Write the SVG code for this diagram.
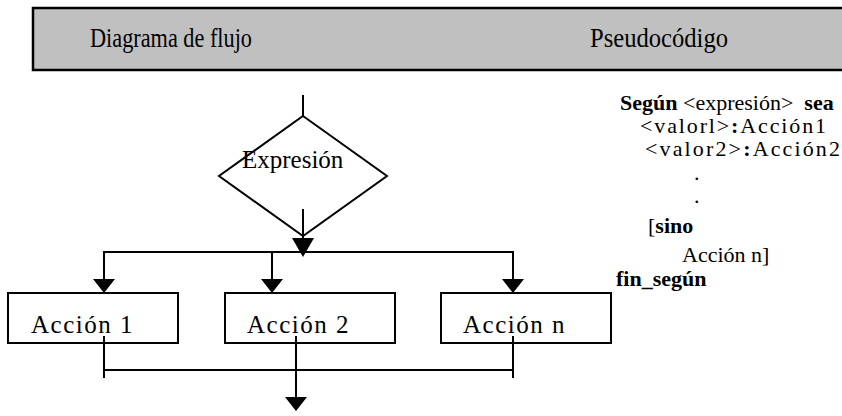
<svg xmlns="http://www.w3.org/2000/svg" width="842" height="416" viewBox="0 0 842 416">
  <style>
    .txt { font-family: "Liberation Serif", "Times New Roman", serif; fill: #000; }
    .hdr { font-size: 27px; }
    .lbl { font-size: 25px; }
    .act { font-size: 25px; letter-spacing: 1.5px; }
    .code { font-size: 22px; }
    .b { font-weight: bold; }
    .shape { fill: #fff; stroke: #000; stroke-width: 2; }
    .wire { fill: none; stroke: #000; stroke-width: 2; }
  </style>
  <defs>
    <!-- arrowheads: base sits on the line end, tip points forward -->
    <marker id="arrow" viewBox="0 0 14 22" refX="0" refY="11" markerWidth="14" markerHeight="22" markerUnits="userSpaceOnUse" orient="auto-start-reverse">
      <path d="M0,0 L14,11 L0,22 Z" fill="#000"/>
    </marker>
    <marker id="arrowBig" viewBox="0 0 19 22" refX="0" refY="11" markerWidth="19" markerHeight="22" markerUnits="userSpaceOnUse" orient="auto">
      <path d="M0,0 L19,11 L0,22 Z" fill="#000"/>
    </marker>
  </defs>

  <!-- header bar -->
  <g id="header">
    <rect x="33" y="8" width="820" height="62" fill="#c0c0c0" stroke="#000" stroke-width="2.5"/>
    <text class="txt hdr" x="90" y="47" textLength="162" lengthAdjust="spacingAndGlyphs">Diagrama de flujo</text>
    <text class="txt hdr" x="590" y="47" textLength="138" lengthAdjust="spacingAndGlyphs">Pseudocódigo</text>
  </g>

  <!-- decision -->
  <g id="expresion">
    <polygon class="shape" points="303,116 387,176 303,236 219,176"/>
    <text class="txt lbl" x="242" y="168">Expresión</text>
  </g>

  <!-- actions -->
  <g id="accion1">
    <rect class="shape" x="8" y="293" width="170" height="50"/>
    <text class="txt act" x="31" y="333">Acción 1</text>
  </g>
  <g id="accion2">
    <rect class="shape" x="225" y="293" width="170" height="50"/>
    <text class="txt act" x="247" y="333">Acción 2</text>
  </g>
  <g id="accionn">
    <rect class="shape" x="441" y="293" width="170" height="50"/>
    <text class="txt act" x="463" y="333">Acción n</text>
  </g>

  <!-- connectors -->
  <g id="connectors">
    <line class="wire" x1="303" y1="95" x2="303" y2="116"/>
    <line class="wire" x1="303" y1="209" x2="303" y2="238" marker-end="url(#arrowBig)"/>
    <polyline class="wire" points="104,279 104,252 513,252 513,279" marker-start="url(#arrow)" marker-end="url(#arrow)"/>
    <line class="wire" x1="272" y1="252" x2="272" y2="279" marker-end="url(#arrow)"/>
    <line class="wire" x1="104" y1="336" x2="104" y2="378"/>
    <line class="wire" x1="513" y1="336" x2="513" y2="378"/>
    <line class="wire" x1="104" y1="370" x2="513" y2="370"/>
    <line class="wire" x1="296" y1="336" x2="296" y2="397" marker-end="url(#arrow)"/>
  </g>

  <!-- pseudocode -->
  <g id="pseudocodigo" class="txt code">
    <text x="620" y="110"><tspan class="b">Según</tspan> &lt;expresión&gt;&#160; <tspan class="b">sea</tspan></text>
    <text x="640" y="133" textLength="186" lengthAdjust="spacing">&lt;valorl&gt;<tspan class="b">:</tspan>Acción1</text>
    <text x="645" y="156" textLength="195" lengthAdjust="spacing">&lt;valor2&gt;<tspan class="b">:</tspan>Acción2</text>
    <text x="694" y="180">.</text>
    <text x="694" y="203">.</text>
    <text x="648" y="233">[<tspan class="b">sino</tspan></text>
    <text x="682" y="262">Acción n]</text>
    <text x="616" y="286" class="b">fin_según</text>
  </g>
</svg>
